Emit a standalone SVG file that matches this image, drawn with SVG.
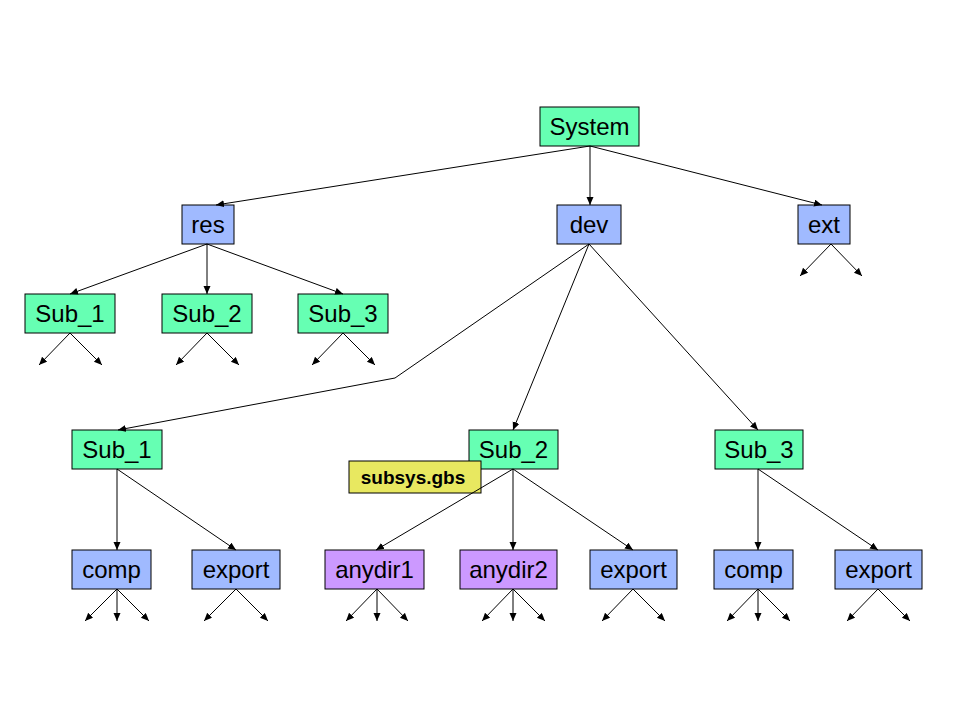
<svg xmlns="http://www.w3.org/2000/svg" width="960" height="720" viewBox="0 0 960 720">
<style>
.box{stroke:#000;stroke-width:1}
.g{fill:#66FFB3}
.b{fill:#A0BAFF}
.p{fill:#CC99FF}
.y{fill:#E8E860}
.t{font-family:"Liberation Sans",Arial,sans-serif;font-size:24px;text-anchor:middle;fill:#000}
.tb{font-family:"Liberation Sans",Arial,sans-serif;font-size:19px;font-weight:bold;text-anchor:middle;fill:#000}
.c{fill:none;stroke:#000;stroke-width:1;marker-end:url(#ah)}
</style>
<defs>
<marker id="ah" markerUnits="userSpaceOnUse" markerWidth="10" markerHeight="8" refX="8" refY="3.5" orient="auto">
<path d="M0,0 L8,3.5 L0,7 Z" fill="#000"/>
</marker>
</defs>
<rect width="960" height="720" fill="#fff"/>
<g id="n-system"><rect class="box g" x="540" y="107" width="99" height="39"/><text class="t" x="589.5" y="135">System</text></g>
<g id="n-res"><rect class="box b" x="182" y="205" width="52" height="39"/><text class="t" x="208" y="233">res</text></g>
<g id="n-dev"><rect class="box b" x="557" y="205" width="64" height="39"/><text class="t" x="589" y="233">dev</text></g>
<g id="n-ext"><rect class="box b" x="798" y="205" width="52" height="39"/><text class="t" x="824" y="233">ext</text></g>
<g id="n-res-sub1"><rect class="box g" x="25" y="294" width="90" height="39"/><text class="t" x="70" y="322">Sub_1</text></g>
<g id="n-res-sub2"><rect class="box g" x="162" y="294" width="90" height="39"/><text class="t" x="207" y="322">Sub_2</text></g>
<g id="n-res-sub3"><rect class="box g" x="298" y="294" width="90" height="39"/><text class="t" x="343" y="322">Sub_3</text></g>
<g id="n-dev-sub1"><rect class="box g" x="72" y="430" width="90" height="39"/><text class="t" x="117" y="458">Sub_1</text></g>
<g id="n-dev-sub2"><rect class="box g" x="469" y="430" width="89" height="39"/><text class="t" x="513.5" y="458">Sub_2</text></g>
<g id="n-dev-sub3"><rect class="box g" x="715" y="430" width="88" height="39"/><text class="t" x="759" y="458">Sub_3</text></g>
<g id="n-subsys"><rect class="box y" x="349" y="461" width="132" height="32"/><text class="tb" x="413" y="484">subsys.gbs</text></g>
<g id="n-comp1"><rect class="box b" x="72" y="550" width="79" height="39"/><text class="t" x="111.5" y="578">comp</text></g>
<g id="n-export1"><rect class="box b" x="192" y="550" width="88" height="39"/><text class="t" x="236" y="578">export</text></g>
<g id="n-anydir1"><rect class="box p" x="325" y="550" width="99" height="39"/><text class="t" x="374.5" y="578">anydir1</text></g>
<g id="n-anydir2"><rect class="box p" x="460" y="550" width="97" height="39"/><text class="t" x="508.5" y="578">anydir2</text></g>
<g id="n-export2"><rect class="box b" x="590" y="550" width="87" height="39"/><text class="t" x="633.5" y="578">export</text></g>
<g id="n-comp2"><rect class="box b" x="714" y="550" width="79" height="39"/><text class="t" x="753.5" y="578">comp</text></g>
<g id="n-export3"><rect class="box b" x="835" y="550" width="87" height="39"/><text class="t" x="878.5" y="578">export</text></g>
<g id="connectors">
<path class="c" d="M590,146 L216,205"/>
<path class="c" d="M590,146 L590,205"/>
<path class="c" d="M590,146 L822,205"/>
<path class="c" d="M207,244 L70,294"/>
<path class="c" d="M207,244 L207,294"/>
<path class="c" d="M207,244 L343,294"/>
<path class="c" d="M589,244 L395,378 L118,430"/>
<path class="c" d="M589,244 L513,430"/>
<path class="c" d="M589,244 L758,430"/>
<path class="c" d="M831,244 L800,276"/>
<path class="c" d="M831,244 L862,276"/>
<path class="c" d="M70,333 L39,365"/>
<path class="c" d="M70,333 L102,365"/>
<path class="c" d="M207,333 L176,365"/>
<path class="c" d="M207,333 L239,365"/>
<path class="c" d="M343,333 L312,365"/>
<path class="c" d="M343,333 L375,365"/>
<path class="c" d="M117,469 L117,550"/>
<path class="c" d="M117,469 L236,550"/>
<path class="c" d="M513,469 L376,550"/>
<path class="c" d="M513,469 L513,550"/>
<path class="c" d="M513,469 L633,550"/>
<path class="c" d="M758,469 L758,550"/>
<path class="c" d="M758,469 L878,550"/>
<path class="c" d="M117,589 L85,621"/>
<path class="c" d="M117,589 L117,621"/>
<path class="c" d="M117,589 L149,621"/>
<path class="c" d="M236,589 L204,621"/>
<path class="c" d="M236,589 L268,621"/>
<path class="c" d="M377,589 L346,621"/>
<path class="c" d="M377,589 L377,621"/>
<path class="c" d="M377,589 L408,621"/>
<path class="c" d="M513,589 L482,621"/>
<path class="c" d="M513,589 L513,621"/>
<path class="c" d="M513,589 L545,621"/>
<path class="c" d="M633,589 L602,621"/>
<path class="c" d="M633,589 L665,621"/>
<path class="c" d="M758,589 L727,621"/>
<path class="c" d="M758,589 L758,621"/>
<path class="c" d="M758,589 L790,621"/>
<path class="c" d="M878,589 L847,621"/>
<path class="c" d="M878,589 L910,621"/>
</g>
</svg>
